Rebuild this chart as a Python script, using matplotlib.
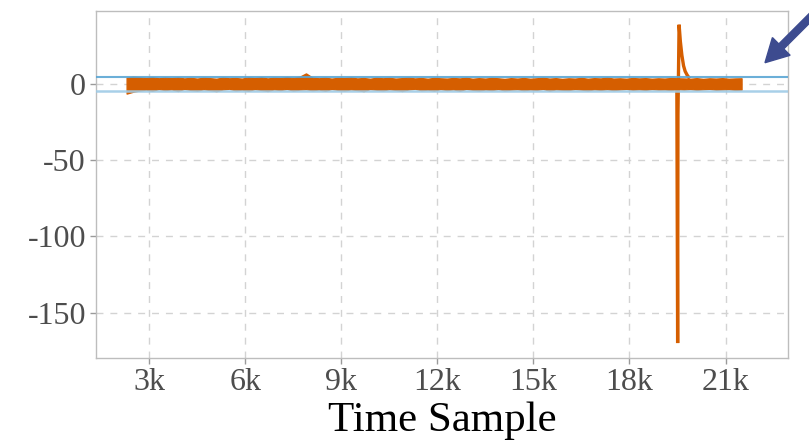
import matplotlib
matplotlib.use("Agg")
import matplotlib.pyplot as plt
from matplotlib.patches import FancyArrow
from matplotlib.transforms import IdentityTransform
from matplotlib.ticker import FuncFormatter

plt.rcParams["font.family"] = ["Liberation Serif", "DejaVu Serif"]
plt.rcParams["axes.unicode_minus"] = False

# Envelope of the noisy signal, one knot every 200 samples from 2300 to 21500
band_start = 2300
band_step = 200
band_upper = [
    4.2, 4.8, 4.5, 4.0, 4.6, 3.8, 4.3, 3.9, 4.4, 3.7,
    4.1, 3.6, 4.2, 3.9, 3.5, 4.3, 3.8, 4.0, 3.6, 4.4,
    3.9, 4.5, 3.7, 4.2, 4.0, 4.6, 4.1, 4.8, 7.0, 4.3,
    3.8, 4.2, 3.6, 4.1, 3.9, 4.4, 3.7, 4.0, 3.5, 4.2,
    3.8, 4.1, 3.6, 3.9, 4.3, 3.7, 4.0, 3.5, 4.1, 3.8,
    3.6, 4.0, 3.7, 4.2, 3.5, 3.9, 3.6, 4.1, 3.8, 3.4,
    3.9, 3.6, 4.0, 3.5, 3.8, 4.2, 3.6, 3.9, 3.4, 3.8,
    3.6, 4.1, 3.5, 3.9, 3.7, 4.3, 3.6, 3.8, 3.5, 4.0,
    3.7, 3.9, 3.5, 3.8, 3.6, 4.0, 3.8, 3.7, 3.5, 3.9,
    3.4, 3.8, 3.6, 3.9, 3.5, 3.7, 3.8,
]
band_lower = [
    -6.2, -5.0, -4.2, -3.6, -4.4, -3.2, -3.9, -3.4, -4.5, -3.1,
    -3.8, -4.3, -3.3, -3.9, -4.6, -3.5, -3.0, -4.1, -3.6, -4.4,
    -3.2, -3.8, -4.5, -3.4, -3.9, -3.1, -4.2, -3.6, -3.3, -4.0,
    -3.5, -4.4, -3.1, -3.8, -4.2, -3.4, -3.9, -4.6, -3.2, -3.7,
    -4.1, -3.3, -3.8, -4.5, -3.5, -3.0, -4.0, -3.6, -4.3, -3.2,
    -3.9, -3.4, -4.4, -3.1, -3.7, -4.2, -3.5, -3.9, -3.2, -4.1,
    -3.6, -3.3, -4.0, -3.5, -3.8, -3.1, -4.3, -3.4, -3.7, -3.9,
    -3.2, -3.6, -4.1, -3.4, -3.8, -3.3, -3.9, -3.5, -3.1, -3.7,
    -3.4, -3.8, -3.2, -3.6, -3.5, -3.9, -3.3, -3.6, -3.2, -3.8,
    -3.4, -3.1, -3.7, -3.5, -3.3, -3.8, -3.6,
]
band_x = [band_start + band_step * i for i in range(len(band_upper))]

# Transient around sample 19500
spike_x = [19400, 19480, 19505, 19515, 19530, 19550, 19590, 19637, 19690, 19740, 19800, 19850]
spike_y = [1.0, -1.5, -170.0, -20.0, 5.0, 39.0, 28.0, 19.0, 12.0, 8.4, 6.0, 4.5]

# Threshold lines
threshold_upper = 4.5
threshold_lower = -4.7

x_ticks = [3000, 6000, 9000, 12000, 15000, 18000, 21000]
y_ticks = [0, -50, -100, -150]

orange = "#d55e00"

fig = plt.figure(figsize=(8.09, 4.40), dpi=100)
ax = fig.add_axes([0.1183, 0.1857, 0.8561, 0.7893])

ax.fill_between(band_x, band_lower, band_upper, color=orange, lw=1.0,
                edgecolor=orange, zorder=3)
ax.plot(spike_x, spike_y, color=orange, lw=2.4, solid_joinstyle="miter", zorder=3)

ax.axhline(threshold_upper, color="#5ba6d4", lw=1.5, alpha=0.9, zorder=4)
ax.axhline(threshold_lower, color="#9fcbe6", lw=1.8, alpha=0.9, zorder=4)

ax.set_xlim(1334, 22960)
ax.set_ylim(-180, 48)
ax.set_xticks(x_ticks)
ax.set_yticks(y_ticks)
ax.xaxis.set_major_formatter(FuncFormatter(lambda v, p: f"{int(round(v / 1000))}k"))
ax.yaxis.set_major_formatter(FuncFormatter(lambda v, p: f"{int(v)}"))

ax.grid(True, color="#d3d3d3", lw=1.0, linestyle=(0, (5, 5)), zorder=0)
ax.set_axisbelow(True)
for s in ax.spines.values():
    s.set_color("#bdbdbd")
    s.set_linewidth(1.0)
ax.tick_params(axis="both", length=4, width=1, color="#9a9a9a",
               labelsize=23, labelcolor="#4d4d4d", pad=3)

ax.set_xlabel("Time Sample", fontsize=31, color="black", labelpad=3)

# Pointer arrow in the upper right corner (pixel coordinates)
tip = (765.0, 377.3)
tail = (830.0, 442.3)
arrow = FancyArrow(tail[0], tail[1], tip[0] - tail[0], tip[1] - tail[1],
                   width=7, head_width=25, head_length=23,
                   length_includes_head=True, color="#3d4b8f",
                   transform=IdentityTransform(), clip_on=False)
fig.add_artist(arrow)

fig.savefig("out.png", dpi=100)
